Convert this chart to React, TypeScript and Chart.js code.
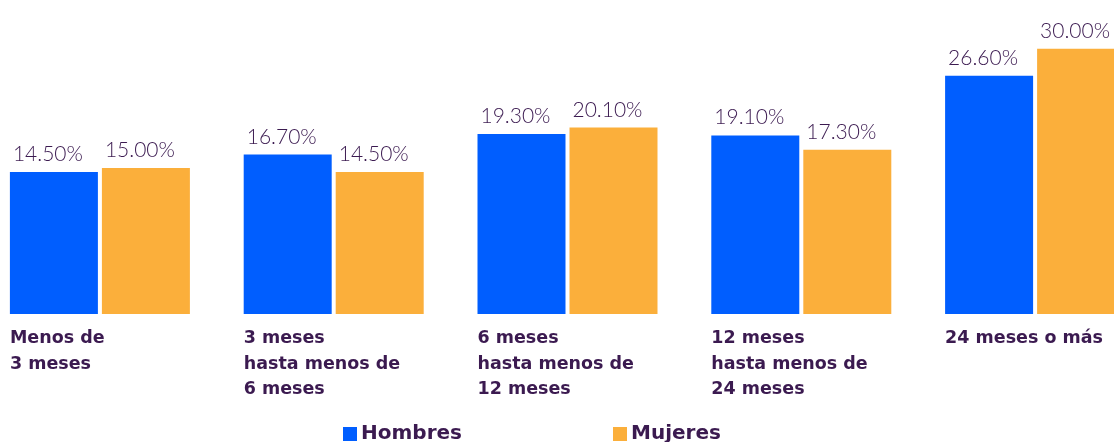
import React, { useEffect, useRef } from 'react';
import { Chart, registerables } from 'chart.js';

Chart.register(...registerables);

const categories: string[][] = [
  ['Menos de', '3 meses'],
  ['3 meses', 'hasta menos de', '6 meses'],
  ['6 meses', 'hasta menos de', '12 meses'],
  ['12 meses', 'hasta menos de', '24 meses'],
  ['24 meses o más'],
];
const seriesNames = ['Hombres', 'Mujeres'];
const hombres = [14.5, 16.7, 19.3, 19.1, 26.6];
const mujeres = [15.0, 14.5, 20.1, 17.3, 30.0];

const COLORS = ['#005EFF', '#FBAF3B'];
const TEXT = '#3B1A50';
const Y_MIN = -3.33;
const Y_MAX = 36.12;

const valueLabels = {
  id: 'valueLabels',
  afterDatasetsDraw(chart: any) {
    const ctx = chart.ctx;
    ctx.save();
    ctx.font = '300 21px Lato';
    ctx.fillStyle = TEXT;
    ctx.textAlign = 'left';
    ctx.textBaseline = 'alphabetic';
    chart.data.datasets.forEach((ds: any, di: number) => {
      const meta = chart.getDatasetMeta(di);
      meta.data.forEach((bar: any, i: number) => {
        const v = ds.data[i] as number;
        ctx.fillText(v.toFixed(2) + '%', bar.x - bar.width / 2 + 3, bar.y - 11);
      });
    });
    ctx.restore();
  },
};

const bottomLegend = {
  id: 'bottomLegend',
  afterDraw(chart: any) {
    const ctx = chart.ctx;
    const xs = [360, 630];
    ctx.save();
    ctx.font = 'bold 20px "DejaVu Sans"';
    ctx.textAlign = 'left';
    ctx.textBaseline = 'alphabetic';
    chart.data.datasets.forEach((ds: any, i: number) => {
      ctx.fillStyle = ds.backgroundColor;
      ctx.fillRect(xs[i], 427, 14, 14);
      ctx.fillStyle = TEXT;
      ctx.fillText(ds.label, xs[i] + 18, 439);
    });
    ctx.restore();
  },
};

export default function App() {
  const ref = useRef<HTMLCanvasElement>(null);
  useEffect(() => {
    if (!ref.current) return;
    const chart = new Chart(ref.current, {
      type: 'bar',
      data: {
        labels: categories,
        datasets: [
          { label: seriesNames[0], data: hombres, backgroundColor: COLORS[0], base: Y_MIN },
          { label: seriesNames[1], data: mujeres, backgroundColor: COLORS[1], base: Y_MIN },
        ] as any,
      },
      options: {
        responsive: false,
        animation: false,
        devicePixelRatio: 1,
        layout: { padding: 0 },
        datasets: { bar: { barPercentage: 0.9565, categoryPercentage: 0.787, borderWidth: 0 } } as any,
        plugins: { legend: { display: false }, tooltip: { enabled: false } },
        scales: {
          x: {
            offset: true,
            grid: { display: false, drawTicks: false },
            border: { display: false },
            ticks: {
              align: 'start',
              labelOffset: -90,
              padding: 12,
              color: TEXT,
              autoSkip: false,
              maxRotation: 0,
              minRotation: 0,
              font: { family: '"DejaVu Sans"', weight: 'bold', size: 17.5, lineHeight: 25.5 / 17.5 },
            },
            afterFit: (s: any) => {
              s.height = 128;
              s.paddingLeft = 0;
              s.paddingRight = 0;
            },
          } as any,
          y: { display: false, min: Y_MIN, max: Y_MAX },
        },
      },
      plugins: [valueLabels, bottomLegend],
    });
    return () => chart.destroy();
  }, []);
  return (
    <div style={{ position: 'fixed', left: 0, top: 0, width: 1114, height: 442, overflow: 'hidden', background: '#fff' }}>
      <canvas ref={ref} width={1169} height={442} style={{ position: 'absolute', left: -17, top: 0, width: 1169, height: 442 }} />
    </div>
  );
}
